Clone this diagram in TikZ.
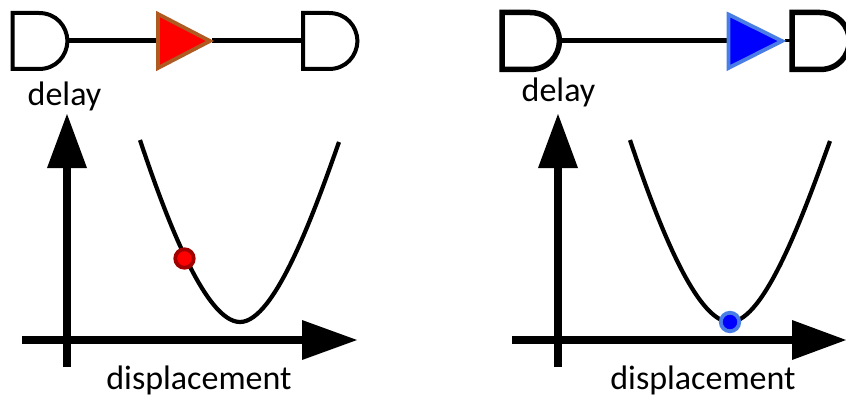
\documentclass[tikz,border=0pt]{standalone}
\usepackage{fontspec}
\setmainfont{Carlito}
\definecolor{tribrown}{RGB}{174,90,33}
\definecolor{triblue}{RGB}{74,126,230}
\definecolor{dotred}{RGB}{160,0,0}
\begin{document}
\begin{tikzpicture}[x=1pt,y=-1pt,
  label text/.style={font=\fontsize{34}{38}\selectfont,text=black,inner sep=0pt,anchor=base},
  gate/.style={draw=black,fill=white,line width=#1,miter limit=10},
  wire/.style={draw=black,line width=5.5pt},
  axis/.style={draw=black,line width=8.5pt},
  head/.style={fill=black,draw=none},
  tri/.style={line width=3.8pt,miter limit=10},
  curve/.style={draw=black,line width=4.2pt},
  dot/.style={circle,minimum size=18.5pt,inner sep=0pt,line width=3.8pt}]
\useasboundingbox (0,0) rectangle (846,396);
% left circuit
\coordinate (gl1) at (68,40.5);
\coordinate (tl) at (157,40.5);
\coordinate (tlr) at (212,40.5);
\coordinate (gl2) at (303,40.5);
\draw[wire] (gl1) -- (tl);
\draw[wire] (tlr) -- (gl2);
\draw[gate=4pt] (12.5,13) -- (39,13) .. controls (56,13) and (67,26) .. (67.5,41) .. controls (67,56) and (56,69) .. (39,69) -- (12.5,69) -- cycle;
\draw[gate=4pt] (303,13) -- (329,13) .. controls (346,13) and (357,26) .. (357.5,41) .. controls (357,56) and (346,69) .. (329,69) -- (303,69) -- cycle;
\draw[tri,draw=tribrown,fill=red] (158,14) -- (210,41) -- (158,68) -- cycle;
% right circuit
\coordinate (gr1) at (560,40.5);
\coordinate (tr) at (728,40.5);
\coordinate (trr) at (785,40.5);
\coordinate (gr2) at (792,40.5);
\draw[wire] (gr1) -- (tr);
\draw[wire,line width=3.5pt] (trr) -- (gr2);
\draw[gate=5.5pt] (502,12.5) -- (530,12.5) .. controls (548,12.5) and (559,26) .. (559.5,41) .. controls (559,56) and (548,69.5) .. (530,69.5) -- (502,69.5) -- cycle;
\draw[gate=5.5pt] (792,12.5) -- (820,12.5) .. controls (838,12.5) and (849,26) .. (849.5,41) .. controls (849,56) and (838,69.5) .. (820,69.5) -- (792,69.5) -- cycle;
\draw[tri,draw=triblue,fill=blue] (728.5,14.5) -- (782,41) -- (728.5,68) -- cycle;
% labels
\node[label text] (dl) at (64.5,105) {delay};
\node[label text] (dr) at (558.5,102) {delay};
\node[label text] (xl) at (199,389.3) {displacement};
\node[label text] (xr) at (703,389.3) {displacement};
% left axes
\coordinate (vl) at (67,367);
\coordinate (hl) at (22,340);
\draw[axis] (vl) -- (67,167);
\fill[head] (47,168) -- (67,114) -- (87,168) -- cycle;
\draw[axis] (hl) -- (303,340);
\fill[head] (302,320) -- (357,340) -- (302,360) -- cycle;
% right axes
\coordinate (vr) at (558,367);
\coordinate (hr) at (512,340);
\draw[axis] (vr) -- (558,167);
\fill[head] (538,168) -- (558,114) -- (578,168) -- cycle;
\draw[axis] (hr) -- (793,340);
\fill[head] (792,320) -- (846,340) -- (792,360) -- cycle;
% curves
\draw[curve] (140,140) .. controls (165,215) and (205,322) .. (240,322) .. controls (275,322) and (315,210) .. (339,142);
\draw[curve] (630,140) .. controls (655,215) and (695,322) .. (730,322) .. controls (765,322) and (805,210) .. (830,141);
% points
\node[dot,fill=red,draw=dotred] (pl) at (184.5,258.5) {};
\node[dot,fill=blue,draw=triblue] (pr) at (730,322) {};
\end{tikzpicture}
\end{document}
